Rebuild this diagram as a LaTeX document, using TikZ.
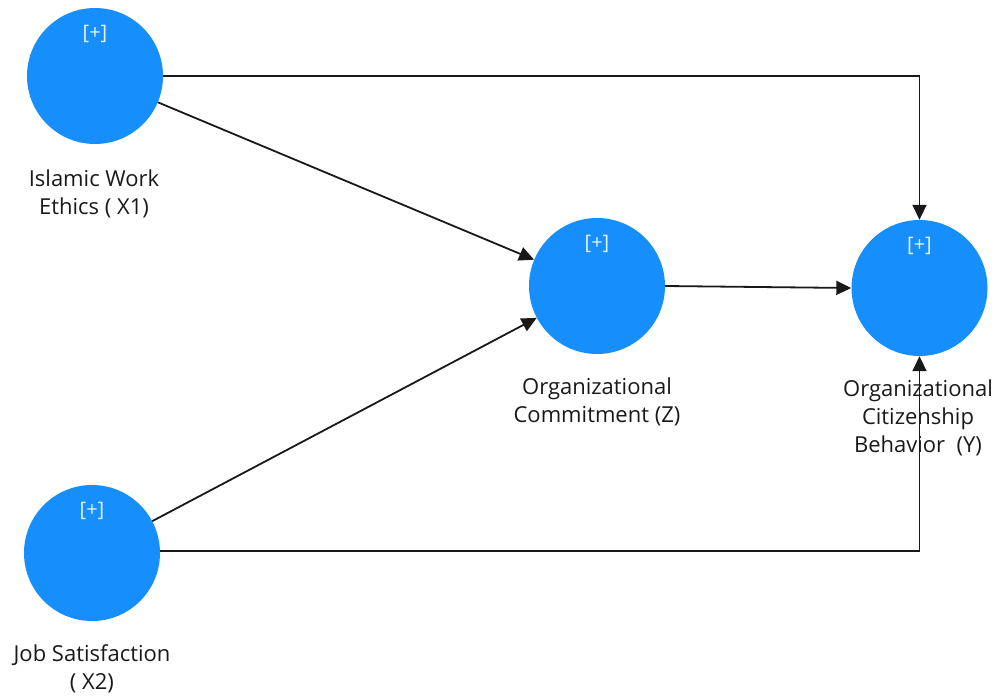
\documentclass[tikz,border=0pt]{standalone}
\usepackage{fontspec}
\setmainfont{Open Sans}
\usetikzlibrary{arrows.meta}
\definecolor{lvblue}{HTML}{168EFB}
\definecolor{plusc}{HTML}{E8F2FF}
\begin{document}
\begin{tikzpicture}[x=1pt,y=-1pt,
  lv/.style={circle,fill=lvblue,minimum size=136pt,inner sep=0pt},
  plus/.style={text=plusc,font=\fontsize{20}{20}\selectfont},
  lab/.style={align=center,font=\fontsize{22}{28}\selectfont,text=black!90},
  conn/.style={line width=1.8pt,draw=black!90,-{Triangle[length=15pt,width=14pt]}}]
\useasboundingbox (0,0) rectangle (995,696);
\node[lv] (x1) at (95,76) {};
\node[lv] (z) at (597,286) {};
\node[lv] (y) at (919.5,288) {};
\node[lv] (x2) at (92,553) {};
\node[plus] (px1) at (95,34) {[+]};
\node[plus] (pz) at (597,244) {[+]};
\node[plus] (py) at (919.5,246) {[+]};
\node[plus] (px2) at (92,511) {[+]};
\node[lab] (lx1) at (94,194) {Islamic Work\\Ethics ( X1)};
\node[lab] (lz) at (597,402) {Organizational\\Commitment (Z)};
\node[lab] (ly) at (918,418) {Organizational\\Citizenship\\Behavior\ \ (Y)};
\node[lab] (lx2) at (92,669) {Job Satisfaction\\( X2)};
\coordinate (c1) at (919.5,76);
\coordinate (c2) at (919.5,551);
\draw[conn] (x1.east) -- (c1) -- (y.north);
\draw[conn] (x1) -- (z);
\draw[conn] (x2) -- (z);
\draw[conn] (z.east) -- (y.west);
\draw[conn] (x2.east |- c2) -- (c2) -- (y.south);
\end{tikzpicture}
\end{document}
